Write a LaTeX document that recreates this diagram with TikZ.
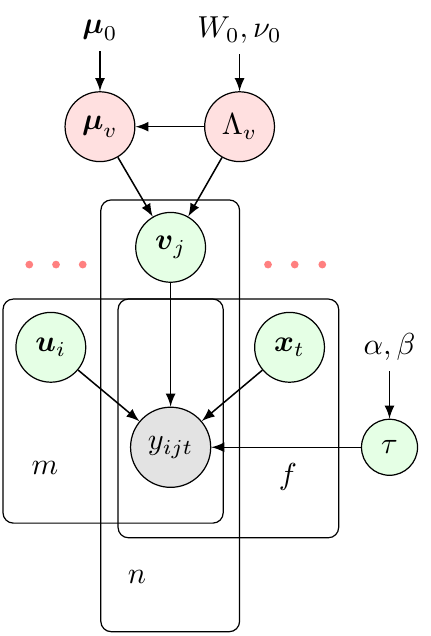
\documentclass[tikz,border=0pt]{standalone}
\usepackage{amsmath, amssymb}
\usepackage{tikz}
\usetikzlibrary{positioning, arrows, calc}

\begin{document}
\begin{tikzpicture}[
	Latente/.style={circle, draw, minimum size=0.81cm, inner sep=1pt, fill=green!10},
	Iper/.style={circle, draw, minimum size=0.81cm, inner sep=1pt, fill=red!12},
	Piatto/.style={draw, rounded corners=0.12cm},
	Freccia/.style={-latex, line width=0.5pt},
	Punto/.style={circle, fill=red!50, inner sep=0pt, minimum size=0.09cm}]
		
		\useasboundingbox (0,0) rectangle (4.99,-7.38);
		
		%Rappresento i piatti
		\draw[Piatto] (1.17,-2.32) rectangle (2.78,-7.33);
		\draw[Piatto] (0.035,-3.47) rectangle (2.59,-6.07);
		\draw[Piatto] (1.37,-3.47) rectangle (3.93,-6.24);
		\node(LabelM) at (0.52,-5.43) {$m$};
		\node(LabelF) at (3.34,-5.53) {$f$};
		\node(LabelN) at (1.59,-6.70) {$n$};
		
		%Rappresento i nodi
		\node(MuZero) at (1.16,-0.35) {$\boldsymbol{\mu}_0$};
		\node(WZero) at (2.78,-0.35) {$W_0, \nu_0$};
		\node(MuV) at (1.16,-1.47) [Iper]{$\boldsymbol{\mu}_v$};
		\node(LambdaV) at (2.78,-1.47) [Iper]{$\Lambda_v$};
		\node(Vj) at (1.98,-2.87) [Latente]{$\boldsymbol{v}_j$};
		\node(Ui) at (0.59,-4.03) [Latente]{$\boldsymbol{u}_i$};
		\node(Xt) at (3.36,-4.03) [Latente]{$\boldsymbol{x}_t$};
		\node(Yijt) at (1.98,-5.19) [Latente, fill=gray!22, minimum size=0.93cm]{$y_{ijt}$};
		\node(AlfaBeta) at (4.52,-4.03) {$\alpha, \beta$};
		\node(Tau) at (4.52,-5.19) [Latente, minimum size=0.65cm]{$\tau$};
		
		%Inserisco i puntini
		\foreach \x [count=\i] in {0.34, 0.65, 0.96} {
			\node(DotL\i) at (\x,-3.07) [Punto]{};
		}
		\foreach \x [count=\i] in {3.11, 3.42, 3.74} {
			\node(DotR\i) at (\x,-3.07) [Punto]{};
		}
		
		%Rappresento i collegamenti
		\draw[Freccia] (MuZero) -- (MuV);
		\draw[Freccia] (WZero) -- (LambdaV);
		\draw[Freccia] (LambdaV) -- (MuV);
		\draw[Freccia] (MuV) -- (Vj);
		\draw[Freccia] (LambdaV) -- (Vj);
		\draw[Freccia] (Vj) -- (Yijt);
		\draw[Freccia] (Ui) -- (Yijt);
		\draw[Freccia] (Xt) -- (Yijt);
		\draw[Freccia] (AlfaBeta) -- (Tau);
		\draw[Freccia] (Tau) -- (Yijt);
		
\end{tikzpicture}
\end{document}
